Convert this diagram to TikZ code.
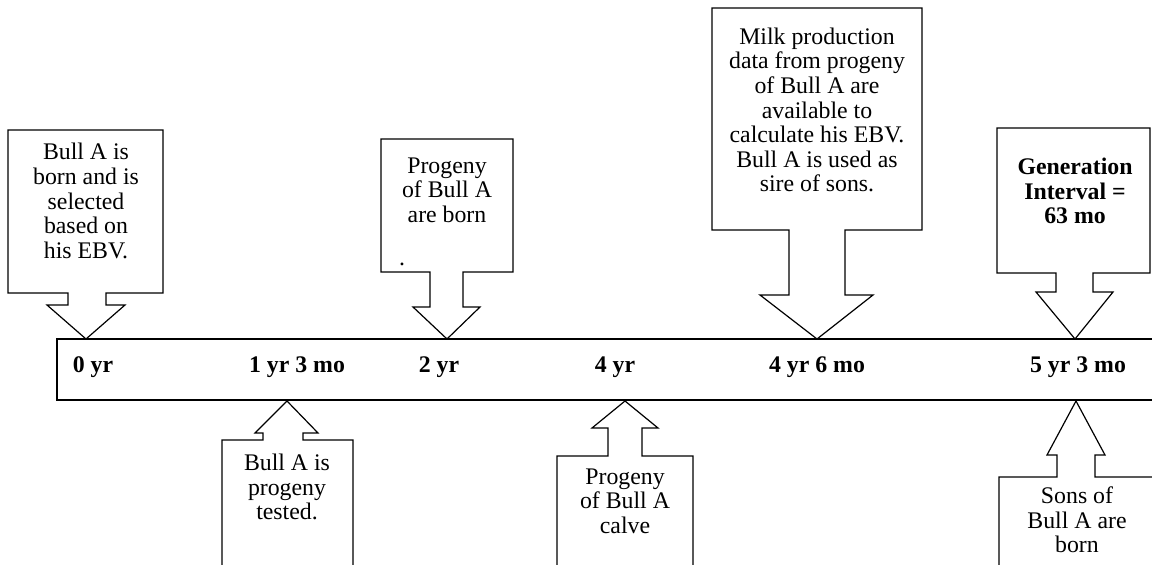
\documentclass[tikz,border=0pt]{standalone}
\usepackage{fontspec}
\setmainfont{Liberation Serif}
\usetikzlibrary{positioning}

\begin{document}
\begin{tikzpicture}[x=1pt, y=-1pt,
    callout/.style={draw, line width=1.2pt, fill=white},
    txt/.style={align=center, inner sep=0pt, font=\fontsize{23.8}{24.6}\selectfont},
    yrlabel/.style={inner sep=0pt, font=\fontsize{23.8}{24}\selectfont\bfseries}]
  \useasboundingbox (0,0) rectangle (1152,565);

  % Time line
  \draw[line width=1.2pt] (1170,339) -- (57,339) -- (57,400) -- (1170,400);
  \node[yrlabel] (y0) at (93,367) {0 yr};
  \node[yrlabel] (y1) at (297,367) {1 yr 3 mo};
  \node[yrlabel] (y2) at (439,367) {2 yr};
  \node[yrlabel] (y4) at (615,367) {4 yr};
  \node[yrlabel] (y46) at (817,367) {4 yr 6 mo};
  \node[yrlabel] (y53) at (1078,367) {5 yr 3 mo};

  % Callouts above the line
  \draw[callout] (8,130) -- (163,130) -- (163,293) -- (106,293) -- (106,305) -- (125,305)
    -- (86,339) -- (47,305) -- (68,305) -- (68,293) -- (8,293) -- cycle;
  \node[txt] (born) at (86,201) {Bull A is\\born and is\\selected\\based on\\his EBV.};

  \draw[callout] (381,139) -- (513,139) -- (513,272) -- (463,272) -- (463,307) -- (480,307)
    -- (447,339) -- (413,307) -- (430,307) -- (430,272) -- (381,272) -- cycle;
  \node[txt] (progborn) at (447,190) {Progeny\\of Bull A\\are born};
  \node[txt] (dot) at (402,264) {.};

  \draw[callout] (712,8) -- (922,8) -- (922,230) -- (845,230) -- (845,295) -- (873,295)
    -- (817,339) -- (760,295) -- (789,295) -- (789,230) -- (712,230) -- cycle;
  \node[txt] (milk) at (817,110) {Milk production\\data from progeny\\of Bull A are\\available to\\calculate his EBV.\\Bull A is used as\\sire of sons.};

  \draw[callout] (997,128) -- (1150,128) -- (1150,273) -- (1093,273) -- (1093,292) -- (1113,292)
    -- (1075,339) -- (1036,292) -- (1056,292) -- (1056,273) -- (997,273) -- cycle;
  \node[txt, font=\fontsize{23.8}{24.6}\selectfont\bfseries] (genint) at (1075,191) {Generation\\Interval =\\63 mo};

  % Callouts below the line
  \draw[callout] (287,401) -- (318,433) -- (303,433) -- (303,440) -- (353,440) -- (353,580)
    -- (222,580) -- (222,440) -- (263,440) -- (263,433) -- (255,433) -- cycle;
  \node[txt] (tested) at (287,487) {Bull A is\\progeny\\tested.};

  \draw[callout] (625,401) -- (658,428) -- (642,428) -- (642,456) -- (693,456) -- (693,580)
    -- (557,580) -- (557,456) -- (608,456) -- (608,428) -- (592,428) -- cycle;
  \node[txt] (calve) at (625,501) {Progeny\\of Bull A\\calve};

  \draw[callout] (1076,401) -- (1105,455) -- (1095,455) -- (1095,477) -- (1170,477) -- (1170,580)
    -- (999,580) -- (999,477) -- (1057,477) -- (1057,455) -- (1047,455) -- cycle;
  \node[txt] (sons) at (1077,520) {Sons of\\Bull A are\\born};

\end{tikzpicture}
\end{document}
